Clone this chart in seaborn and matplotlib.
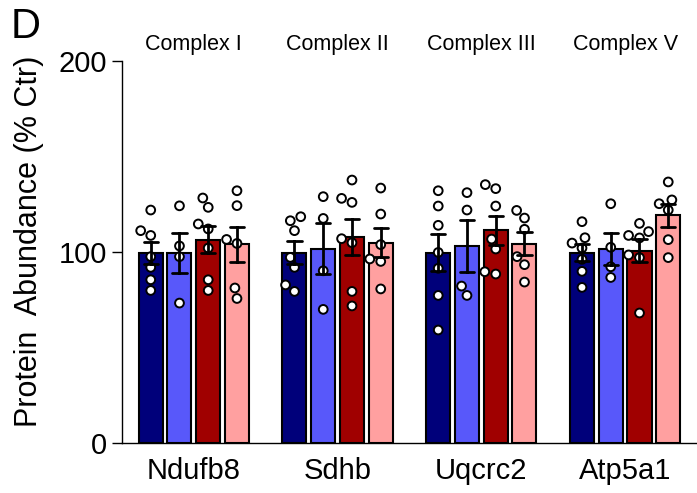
import numpy as np
import pandas as pd
import matplotlib
matplotlib.use("Agg")
import matplotlib.pyplot as plt
import matplotlib.transforms as mtransforms
import seaborn as sns

genes = ["Ndufb8", "Sdhb", "Uqcrc2", "Atp5a1"]
complexes = ["Complex I", "Complex II", "Complex III", "Complex V"]
conditions = ["Group 1", "Group 2", "Group 3", "Group 4"]
palette = ["#00007A", "#5858FA", "#A00000", "#FFA0A0"]

ndufb8_g1 = [121.8, 111.0, 108.5, 97.4, 91.8, 85.3, 79.7]
ndufb8_g2 = [124.0, 103.0, 97.4, 73.1]
ndufb8_g3 = [128.1, 123.2, 114.5, 111.9, 101.9, 85.3, 79.7]
ndufb8_g4 = [131.9, 124.1, 106.4, 104.3, 81.0, 75.5]
sdhb_g1 = [118.3, 116.2, 111.0, 97.0, 91.8, 82.6, 79.2]
sdhb_g2 = [128.8, 117.4, 90.0, 69.8]
sdhb_g3 = [137.5, 127.9, 125.8, 106.8, 104.7, 79.2, 71.6]
sdhb_g4 = [133.3, 119.7, 103.7, 96.2, 94.9, 80.5]
uqcrc2_g1 = [131.9, 123.9, 113.8, 99.6, 91.3, 77.1, 59.0]
uqcrc2_g2 = [130.9, 121.8, 82.0, 77.1]
uqcrc2_g3 = [135.1, 133.0, 123.9, 106.6, 101.4, 89.5, 88.3]
uqcrc2_g4 = [121.6, 117.6, 111.7, 97.4, 93.2, 84.1]
atp5a1_g1 = [115.7, 107.3, 104.5, 101.9, 96.0, 89.7, 81.3]
atp5a1_g2 = [125.1, 102.3, 92.1, 86.5]
atp5a1_g3 = [114.8, 110.5, 108.5, 107.2, 98.3, 96.9, 67.9]
atp5a1_g4 = [136.5, 127.1, 125.1, 121.8, 106.3, 96.9]

series = {
    "Ndufb8": [ndufb8_g1, ndufb8_g2, ndufb8_g3, ndufb8_g4],
    "Sdhb": [sdhb_g1, sdhb_g2, sdhb_g3, sdhb_g4],
    "Uqcrc2": [uqcrc2_g1, uqcrc2_g2, uqcrc2_g3, uqcrc2_g4],
    "Atp5a1": [atp5a1_g1, atp5a1_g2, atp5a1_g3, atp5a1_g4],
}
rows = []
for g in genes:
    for c, vals in zip(conditions, series[g]):
        for v in vals:
            rows.append({"gene": g, "cond": c, "value": v})
df = pd.DataFrame(rows)

sns.set_style("ticks")
plt.rcParams["font.family"] = ["Liberation Sans", "DejaVu Sans"]
plt.rcParams["text.color"] = "black"
plt.rcParams["axes.labelcolor"] = "black"
plt.rcParams["xtick.color"] = "black"
plt.rcParams["ytick.color"] = "black"

fig = plt.figure(figsize=(6.97, 4.93), dpi=100)
ax = fig.add_axes([0.175, 0.102, 0.825, 0.775])

sns.barplot(data=df, x="gene", y="value", hue="cond", order=genes,
            hue_order=conditions, palette=palette, saturation=1,
            errorbar="se", capsize=0.4, width=0.8, gap=0.165,
            edgecolor="black", linewidth=1.5,
            err_kws={"color": "black", "linewidth": 2, "zorder": 5},
            legend=False, ax=ax)
sns.swarmplot(data=df, x="gene", y="value", hue="cond", order=genes,
              hue_order=conditions, dodge=True,
              palette={c: "white" for c in conditions}, edgecolor="black",
              linewidth=1.4, size=6.3, legend=False, zorder=4, ax=ax)

ax.set_xlim(-0.5, 3.5)
ax.set_ylim(0, 200)
ax.set_yticks([0, 100, 200])
ax.set_xlabel("")
ax.set_ylabel("Protein  Abundance (% Ctr)", fontsize=22)
ax.yaxis.set_label_coords(-0.136, 0.528)
ax.tick_params(axis="y", labelsize=21, length=7, width=1, pad=3.5, color="black",
               labelcolor="black")
ax.tick_params(axis="x", labelsize=21, length=0, pad=10, labelcolor="black")
for s in ["top", "right"]:
    ax.spines[s].set_visible(False)
for s in ["left", "bottom"]:
    ax.spines[s].set_linewidth(1.0)
    ax.spines[s].set_color("black")

trans = mtransforms.blended_transform_factory(ax.transData, ax.transAxes)
for i, cx in enumerate(complexes):
    ax.text(i, 1.041, cx, transform=trans, ha="center", va="center",
            fontsize=15.5, color="black")

fig.text(0.015, 0.985, "D", fontsize=30, ha="left", va="top", color="black")

fig.savefig("out.png", dpi=100)
